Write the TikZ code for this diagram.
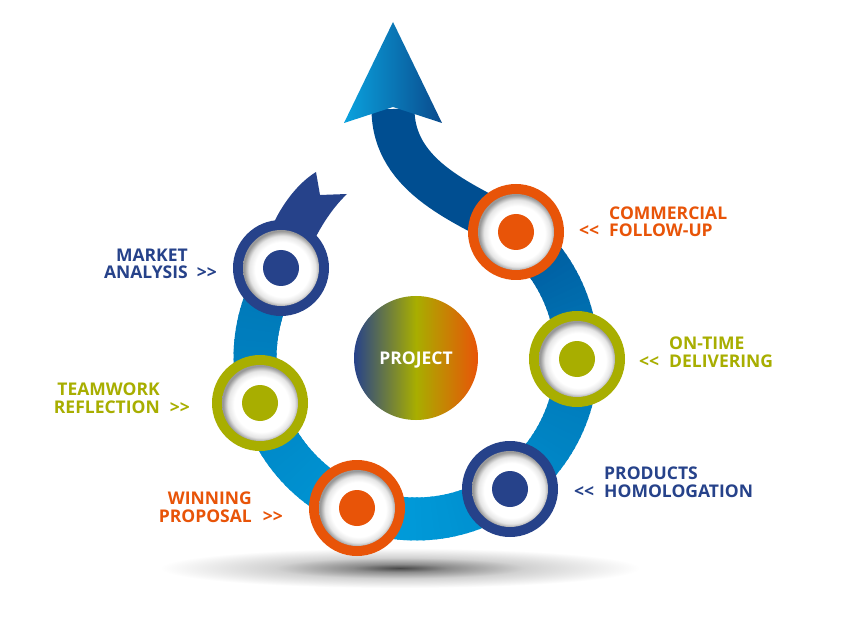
\documentclass[tikz,border=0pt]{standalone}
\usepackage{fontspec}
\setmainfont{Open Sans}
\definecolor{navy}{HTML}{26428A}
\definecolor{orng}{HTML}{E85408}
\definecolor{olive}{HTML}{A8AE00}
\definecolor{bandA}{HTML}{0075B5}
\definecolor{bandB}{HTML}{009BDA}
\definecolor{bandD}{HTML}{0078B8}
\definecolor{bandC}{HTML}{00569A}
\definecolor{arrowband}{HTML}{004E91}
\definecolor{headL}{HTML}{0AA2DE}
\definecolor{headR}{HTML}{0A4B8D}
\pgfdeclareradialshading{ishadow}{\pgfpoint{1.5bp}{-1.5bp}}{color(0bp)=(white); color(18bp)=(white); color(22bp)=(black!10); color(25bp)=(black!40); color(50bp)=(black!40)}
\pgfdeclareradialshading{floorshadow}{\pgfpoint{0bp}{0bp}}{color(0bp)=(black!72); color(5bp)=(black!45); color(13bp)=(black!18); color(25bp)=(white); color(50bp)=(white)}
\newcommand\mybadge[2]{%
  \fill[#2] (#1) circle[radius=48];
  \shade[shading=ishadow] (#1) circle[radius=38];
  \fill[#2] (#1) circle[radius=18];}
\tikzset{
  lbl/.style={inner sep=0pt, font=\bfseries\fontsize{17.5}{17.3}\selectfont},
}
\begin{document}
\begin{tikzpicture}[x=1pt,y=1pt]
\fill[white] (0,0) rectangle (850,635);
\useasboundingbox (0,0) rectangle (850,635);
\coordinate (C) at (416,277);
\coordinate (mkt) at (281,367);
\coordinate (team) at (260,232);
\coordinate (win) at (357,127);
\coordinate (prod) at (510,146);
\coordinate (ontime) at (577,276);
\coordinate (comm) at (516,403);
\coordinate (notch) at (393,526);
% floor shadow
\shade[shading=floorshadow] (400,67) ellipse[x radius=240, y radius=20];
% tail
\fill[navy] (263,379) .. controls (268,410) and (290,447) .. (316,463)
  -- (320,440) -- (347,441) .. controls (330,425) and (310,395) .. (299,355) -- cycle;
% band along the circle
\foreach \a in {146,148,...,410}{
  \ifdim\a pt<262pt
    \pgfmathsetmacro\p{100*(262-\a)/116}\colorlet{segc}{bandA!\p!bandB}
  \else\ifdim\a pt<360pt
    \pgfmathsetmacro\p{100*(360-\a)/98}\colorlet{segc}{bandB!\p!bandD}
  \else
    \pgfmathsetmacro\p{100*(412-\a)/52}\colorlet{segc}{bandD!\p!bandC}
  \fi\fi
  \draw[segc, line width=43pt] ([shift={(\a:161)}]C) arc[start angle=\a, end angle=\a+2.8, radius=161];
}
% band up to the arrow head
\draw[arrowband, line width=43pt] (comm) .. controls +(150:55) and +(-90:70) .. (notch);
% arrow head
\shade[left color=headL, right color=headR] (393,613) -- (442,512) -- (393,528) -- (344,512) -- cycle;
% badges
\mybadge{mkt}{navy}
\mybadge{team}{olive}
\mybadge{win}{orng}
\mybadge{prod}{navy}
\mybadge{ontime}{olive}
\mybadge{comm}{orng}
% project
\shade[left color=navy, right color=orng, middle color=olive] (C) circle[radius=62];
\node[lbl, text=white, anchor=base] (proj) at (416,271) {PROJECT};
% labels (anchor = baseline of the last line)
\node[lbl, text=orng, align=left, anchor=base west] (lcomm) at (609,398)
  {COMMERCIAL\\\llap{<{}<\hspace{10pt}}FOLLOW-UP};
\node[lbl, text=olive, align=left, anchor=base west] (lon) at (669,268)
  {ON-TIME\\\llap{<{}<\hspace{10pt}}DELIVERING};
\node[lbl, text=navy, align=left, anchor=base west] (lprod) at (604,138)
  {PRODUCTS\\\llap{<{}<\hspace{10pt}}HOMOLOGATION};
\node[lbl, text=navy, align=right, anchor=base east] (lmkt) at (188,356)
  {MARKET\\ANALYSIS\rlap{\hspace{9pt}>{}>}};
\node[lbl, text=olive, align=right, anchor=base east] (lteam) at (160,222)
  {TEAMWORK\\REFLECTION\rlap{\hspace{10pt}>{}>}};
\node[lbl, text=orng, align=right, anchor=base east] (lwin) at (252,113)
  {WINNING\\PROPOSAL\rlap{\hspace{11pt}>{}>}};
\end{tikzpicture}
\end{document}
